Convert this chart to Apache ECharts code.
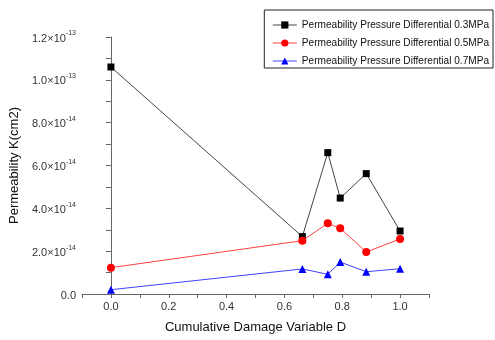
<!DOCTYPE html>
<html>
<head>
<meta charset="utf-8">
<script src="https://cdn.jsdelivr.net/npm/echarts@6/dist/echarts.min.js"></script>
<style>
  html, body { margin: 0; padding: 0; background: #fff; }
  #chart { width: 495px; height: 340px; }
</style>
</head>
<body>
<div id="chart"></div>
<script>
// damage variable D for each test point
const damage = [0.0, 0.662, 0.75, 0.793, 0.883, 1.0];
// permeability, in units of 1e-14 cm2
const k03 = [10.6, 2.68, 6.6, 4.48, 5.62, 2.94];
const k05 = [1.23, 2.49, 3.30, 3.07, 1.96, 2.57];
const k07 = [0.2, 1.17, 0.92, 1.49, 1.04, 1.18];
const seriesNames = [
  'Permeability Pressure Differential 0.3MPa',
  'Permeability Pressure Differential 0.5MPa',
  'Permeability Pressure Differential 0.7MPa',
];
const xLabels = [0, 0.2, 0.4, 0.6, 0.8, 1.0];
const xTicks = [-0.1, 0, 0.1, 0.2, 0.3, 0.4, 0.5, 0.6, 0.7, 0.8, 0.9, 1.0, 1.1];

const chart = echarts.init(document.getElementById('chart'));
const FONT = 'Liberation Sans';

function yLabel(v) {
  if (v === 0) return '{a|0.0}';
  // v is in 1e-14 units
  let exp = -14, m = v;
  while (m >= 10) { m /= 10; exp += 1; }
  return '{a|' + m.toFixed(1) + '×10}{b|' + exp + '}';
}

const pts = arr => damage.map((d, i) => [d, arr[i]]);

chart.setOption({
  animation: false,
  textStyle: { fontFamily: FONT },
  grid: { left: 82, top: 37, width: 347, height: 257 },
  legend: {
    orient: 'vertical',
    right: 2, top: 10,
    padding: [10, 4, 2, 8],
    borderColor: '#222', borderWidth: 1,
    itemWidth: 24, itemHeight: 9, itemGap: 8,
    lineStyle: { width: 1 },
    textStyle: { fontFamily: FONT, fontSize: 10.1, color: '#111' },
    data: seriesNames,
  },
  xAxis: {
    type: 'value', min: -0.1, max: 1.1,
    name: 'Cumulative Damage Variable D',
    nameLocation: 'middle', nameGap: 27,
    nameTextStyle: { fontFamily: FONT, fontSize: 13, color: '#111' },
    axisLine: { lineStyle: { color: '#666' } },
    axisTick: { customValues: xTicks, length: 4, lineStyle: { color: '#666' } },
    axisLabel: {
      customValues: xLabels, margin: 7, fontSize: 11, color: '#333',
      formatter: v => v.toFixed(1),
    },
    splitLine: { show: false },
  },
  yAxis: {
    type: 'value', min: 0, max: 12, interval: 2,
    name: 'Permeability K(cm2)',
    nameLocation: 'middle', nameGap: 55, nameRotate: 90,
    nameTextStyle: { fontFamily: FONT, fontSize: 13, color: '#111' },
    axisLine: { show: true, lineStyle: { color: '#666' } },
    axisTick: { show: true, length: 5, lineStyle: { color: '#666' } },
    minorTick: { show: true, splitNumber: 2, length: 5, lineStyle: { color: '#666' } },
    axisLabel: {
      margin: 6, color: '#333',
      formatter: yLabel,
      rich: {
        a: { fontFamily: FONT, fontSize: 11, color: '#333', lineHeight: 14, verticalAlign: 'bottom' },
        b: { fontFamily: FONT, fontSize: 7, color: '#333', lineHeight: 14, verticalAlign: 'top' },
      },
    },
    splitLine: { show: false },
  },
  series: [
    {
      name: seriesNames[0], type: 'line', data: pts(k03),
      symbol: 'rect', symbolSize: 7, color: '#000',
      lineStyle: { width: 1, color: '#444' },
    },
    {
      name: seriesNames[1], type: 'line', data: pts(k05),
      symbol: 'circle', symbolSize: 8, color: '#ff0000',
      lineStyle: { width: 1, color: '#ff4040' },
    },
    {
      name: seriesNames[2], type: 'line', data: pts(k07),
      symbol: 'triangle', symbolSize: 8, color: '#0000ff',
      lineStyle: { width: 1, color: '#4040ff' },
    },
  ],
});
</script>
</body>
</html>
